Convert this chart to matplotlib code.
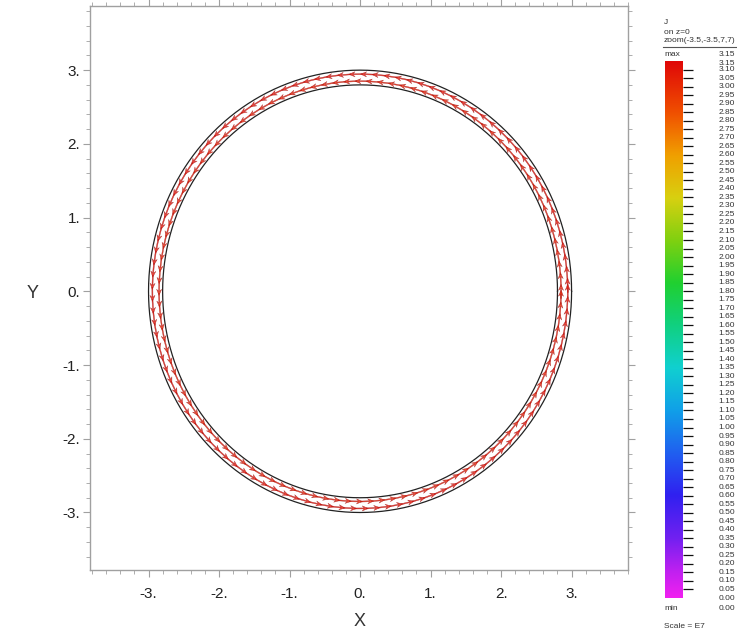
import numpy as np
import matplotlib
matplotlib.use("Agg")
import matplotlib.pyplot as plt
from matplotlib.colors import LinearSegmentedColormap, Normalize
from matplotlib.ticker import MultipleLocator, FuncFormatter

plt.rcParams['font.family'] = ['Liberation Sans', 'DejaVu Sans']

# conductor ring (two boundary circles)
ring_radii = [3.0, 2.8]

# current density J (units of 1E7) at mesh nodes, two rows inside the ring
node_rows_r = [2.85, 2.945]
node_rows_offset_deg = [0.0, 1.6]
node_step_deg = 3.2
row_J = [3.05, 3.10]

# colour scale
j_min, j_max = 0.0, 3.15
scale_levels = [0.0, 0.15, 0.35, 0.60, 0.85, 1.10, 1.35, 1.60, 1.85, 2.10, 2.35, 2.60, 2.85, 3.15]
scale_colors = ['#f020f0', '#c020f0', '#7020f0', '#3020f0', '#2060f0', '#10a0e8', '#10d0d0',
                '#10d080', '#20d030', '#80d010', '#d8d010', '#f0a000', '#f05000', '#e00808']
label_values = [round(0.05 * k, 2) for k in range(63)]

header_lines = ["J", "on z=0", "zoom(-3.5,-3.5,7,7)"]

W, H = 737, 635
fig = plt.figure(figsize=(W / 100, H / 100), dpi=100)

def fx(px):
    return px / W

def fy(py):
    return 1 - py / H

ax = fig.add_axes([fx(90), fy(570), fx(628) - fx(90), fy(6) - fy(570)])
ax.set_xlim(-3.83, 3.80)
ax.set_ylim(-3.78, 3.87)

grey = '#a0a0a0'
for s in ax.spines.values():
    s.set_color(grey)
    s.set_linewidth(1.0)

t = np.linspace(0, 2 * np.pi, 721)
for r in ring_radii:
    ax.plot(r * np.cos(t), r * np.sin(t), color='#222222', lw=0.9)

cmap = LinearSegmentedColormap.from_list(
    'jmap', [(v / j_max, c) for v, c in zip(scale_levels, scale_colors)])
norm = Normalize(j_min, j_max)

for r, off, j in zip(node_rows_r, node_rows_offset_deg, row_J):
    th = np.deg2rad(np.arange(off, 360 + off, node_step_deg))
    x, y = r * np.cos(th), r * np.sin(th)
    # counter-clockwise tangential current
    u, v = -j * np.sin(th), j * np.cos(th)
    ax.quiver(x, y, u, v, np.full_like(x, j), cmap=cmap, norm=norm,
              angles='xy', scale_units='xy', scale=16, pivot='middle',
              width=0.0019, headwidth=5.0, headlength=6.0, headaxislength=4.2,
              edgecolor='#a01818', linewidth=0.3, alpha=0.8, zorder=3)

ax.xaxis.set_major_locator(MultipleLocator(1))
ax.yaxis.set_major_locator(MultipleLocator(1))
ax.xaxis.set_minor_locator(MultipleLocator(0.2))
ax.yaxis.set_minor_locator(MultipleLocator(0.2))
fmt = FuncFormatter(lambda v, p: f"{v:.0f}.")
ax.xaxis.set_major_formatter(fmt)
ax.yaxis.set_major_formatter(fmt)
ax.tick_params(which='both', direction='out', color=grey, top=True, right=True,
               labelsize=11, labelcolor='#222222')
ax.tick_params(which='major', length=5)
ax.tick_params(which='minor', length=3)
ax.tick_params(axis='x', pad=7)
ax.tick_params(axis='y', pad=2)

fig.text(fx(360), fy(621), "X", ha='center', va='center', fontsize=13, color='#333333')
fig.text(fx(33), fy(293), "Y", ha='center', va='center', fontsize=13, color='#333333')

# colour legend
cax = fig.add_axes([fx(665), fy(598), fx(683) - fx(665), fy(61) - fy(598)])
grad = np.linspace(j_min, j_max, 256).reshape(-1, 1)
cax.imshow(grad, origin='lower', aspect='auto', cmap=cmap, norm=norm,
           extent=[0, 1, j_min, j_max])
cax.set_xlim(0, 1)
cax.set_ylim(j_min, j_max)
for s in cax.spines.values():
    s.set_visible(False)
cax.set_xticks([])
cax.yaxis.tick_right()
cax.set_yticks(label_values[1:])
cax.set_yticklabels([])
cax.tick_params(axis='y', length=7, width=0.9, color='#111111')

txt = dict(fontsize=6, color='#333333')
to_fig = fig.transFigure.inverted()
for v in label_values:
    yy = to_fig.transform(cax.transData.transform((0, v)))[1]
    fig.text(fx(735), yy, f"{v:.2f}", ha='right', va='center', **txt)
yy_top = to_fig.transform(cax.transData.transform((0, j_max)))[1]
fig.text(fx(735), yy_top - 2.5 / H, f"{j_max:.2f}", ha='right', va='center', **txt)
fig.text(fx(735), fy(55), f"{j_max:.2f}", ha='right', va='center', **txt)
fig.text(fx(664), fy(55), "max", ha='left', va='center', **txt)
fig.text(fx(735), fy(609), f"{j_min:.2f}", ha='right', va='center', **txt)
fig.text(fx(664), fy(609), "min", ha='left', va='center', **txt)
fig.text(fx(664), fy(626), "Scale = E7", ha='left', va='center', **txt)

for i, line in enumerate(header_lines):
    fig.text(fx(664), fy(23 + 9 * i), line, ha='left', va='center', **txt)
fig.add_artist(plt.Line2D([fx(663), fx(737)], [fy(47), fy(47)], color='#555555', lw=0.8))

fig.savefig("out.png", dpi=100)
